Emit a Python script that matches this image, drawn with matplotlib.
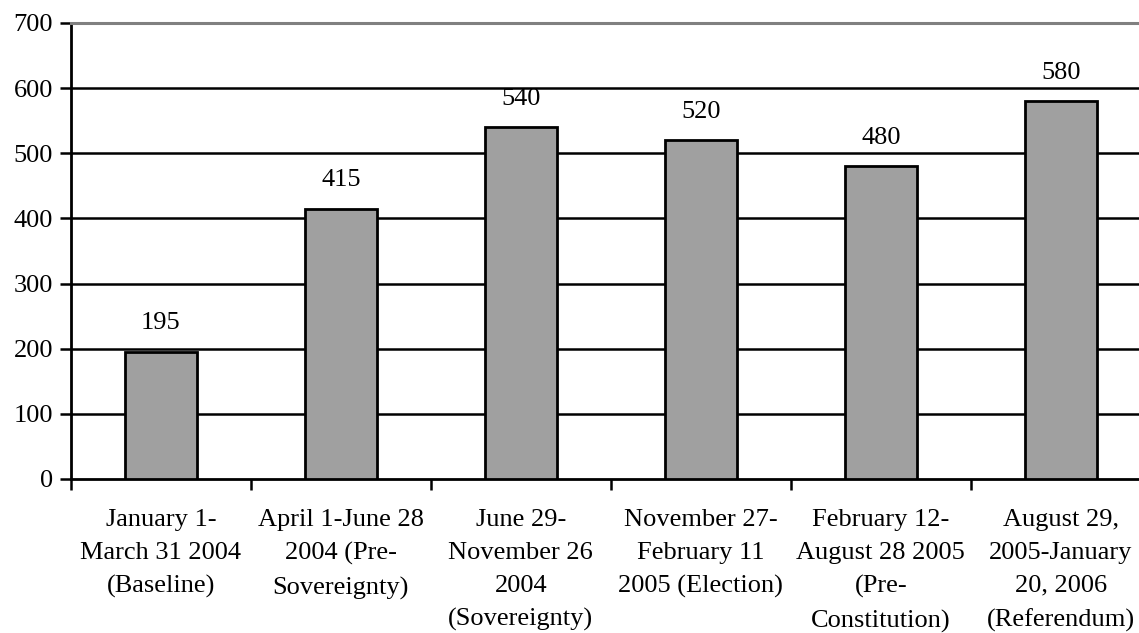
import numpy as np
import matplotlib
matplotlib.use("Agg")
import matplotlib.pyplot as plt
from matplotlib.ticker import FixedLocator

plt.rcParams['font.family'] = ['Liberation Serif', 'DejaVu Serif']

periods = [
    "January 1-\nMarch 31 2004\n(Baseline)",
    "April 1-June 28\n2004 (Pre-\nSovereignty)",
    "June 29-\nNovember 26\n2004\n(Sovereignty)",
    "November 27-\nFebruary 11\n2005 (Election)",
    "February 12-\nAugust 28 2005\n(Pre-\nConstitution)",
    "August 29,\n2005-January\n20, 2006\n(Referendum)",
]
counts = [195, 415, 540, 520, 480, 580]
yticks = [0, 100, 200, 300, 400, 500, 600, 700]

fig = plt.figure(figsize=(11.39, 6.33), dpi=100)
ax = fig.add_axes([0.0623, 0.2433, 0.948, 0.7204])

x = np.arange(len(counts))
ax.bar(x, counts, width=0.4, color="#a0a0a0", edgecolor="black", linewidth=2, zorder=3)

for xi, v in zip(x, counts):
    ax.annotate(str(v), (xi, v), xytext=(0, 20.5), textcoords="offset points",
                ha="center", va="center", fontsize=19)

ax.set_xlim(-0.5, len(counts) - 0.5)
ax.set_ylim(0, 700)
ax.set_yticks(yticks)
ax.set_xticks(x)
ax.set_xticklabels(periods, fontsize=19, linespacing=1.64, va="top")
ax.xaxis.set_minor_locator(FixedLocator(np.arange(-0.5, len(counts), 1.0)))

ax.tick_params(axis="x", which="major", length=0, pad=21.5)
ax.tick_params(axis="x", which="minor", length=8, width=1.8, direction="out")
ax.tick_params(axis="y", length=8, width=1.8, direction="out", labelsize=19, pad=5)

# horizontal rules at each hundred, drawn black under the bars
for yv in yticks[1:-1]:
    ax.axhline(yv, color="black", linewidth=1.8, zorder=1)

for side in ["left", "bottom"]:
    ax.spines[side].set_linewidth(2)
    ax.spines[side].set_color("black")
ax.spines["top"].set_color("#808080")
ax.spines["top"].set_linewidth(2.2)
ax.spines["right"].set_visible(False)

fig.savefig("out.png", dpi=100)
